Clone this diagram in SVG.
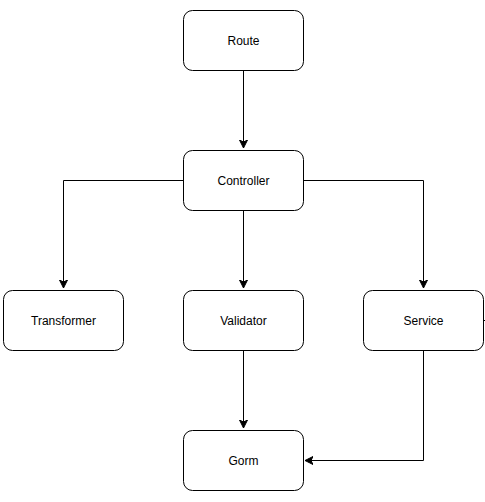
<svg xmlns="http://www.w3.org/2000/svg" width="485" height="502" viewBox="0 0 485 502">
<style>
.n rect{fill:#fff;stroke:#000;stroke-width:1}
.n text{font-family:"Liberation Sans",Arial,sans-serif;font-size:12px;fill:#000;text-anchor:middle;dominant-baseline:central}
.c path{fill:none;stroke:#000;stroke-width:1}
</style>
<defs>
<marker id="ah" markerWidth="10" markerHeight="10" refX="8" refY="4" orient="auto" markerUnits="userSpaceOnUse">
<path d="M0,0 L8,4 L0,8 L2,4 Z" fill="#000" stroke="#000" stroke-width="1"/>
</marker>
</defs>
<g class="c" id="connectors">
<path d="M243.5,70 V148" marker-end="url(#ah)"/>
<path d="M183.5,180.5 H63.5 V288" marker-end="url(#ah)"/>
<path d="M243.5,210 V288" marker-end="url(#ah)"/>
<path d="M303.5,180.5 H423.5 V288" marker-end="url(#ah)"/>
<path d="M243.5,350 V428" marker-end="url(#ah)"/>
<path d="M423.5,350 V460.5 H305" marker-end="url(#ah)"/>
<path d="M483.5,320.5 H485"/>
</g>
<g class="n" id="route"><rect x="183.5" y="10.5" width="120" height="60" rx="9"/><text x="243.5" y="40.5">Route</text></g>
<g class="n" id="controller"><rect x="183.5" y="150.5" width="120" height="60" rx="9"/><text x="243.5" y="180.5">Controller</text></g>
<g class="n" id="transformer"><rect x="3.5" y="290.5" width="120" height="60" rx="9"/><text x="63.5" y="320.5">Transformer</text></g>
<g class="n" id="validator"><rect x="183.5" y="290.5" width="120" height="60" rx="9"/><text x="243.5" y="320.5">Validator</text></g>
<g class="n" id="service"><rect x="363.5" y="290.5" width="120" height="60" rx="9"/><text x="423.5" y="320.5">Service</text></g>
<g class="n" id="gorm"><rect x="183.5" y="430.5" width="120" height="60" rx="9"/><text x="243.5" y="460.5">Gorm</text></g>
</svg>
